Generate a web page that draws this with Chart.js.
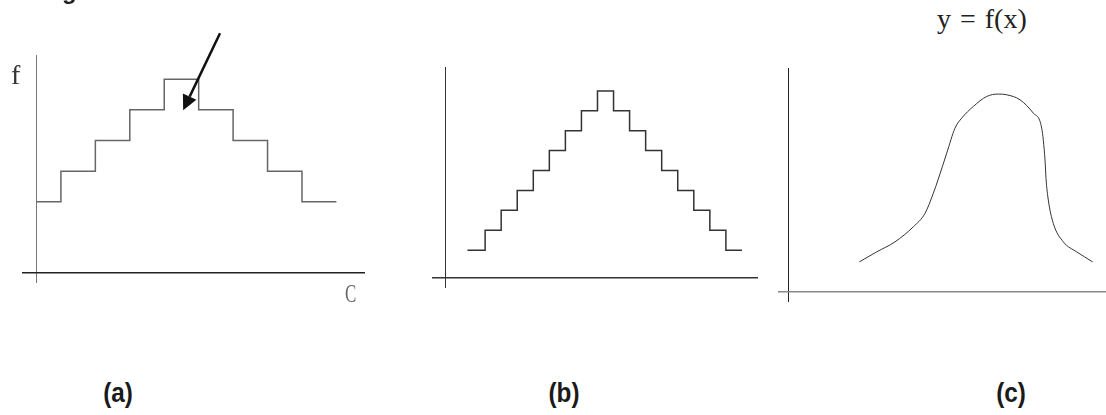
<!DOCTYPE html>
<html>
<head>
<meta charset="utf-8">
<script src="https://cdn.jsdelivr.net/npm/chart.js@4.4.1/dist/chart.umd.min.js"></script>
<style>
  html, body { margin: 0; padding: 0; background: #fff; }
  body { width: 1106px; height: 415px; position: relative; overflow: hidden; }
  canvas { position: absolute; }
  .lbl { position: absolute; white-space: nowrap; line-height: 1; }
  .serif { font-family: "Liberation Serif", "DejaVu Serif", serif; }
  .panel { font-family: "Liberation Sans", Arial, sans-serif; font-weight: bold; font-size: 27px; color: #1a1a1a; width: 60px; text-align: center; top: 380px; transform: scaleX(0.9); }
</style>
</head>
<body>
<canvas id="chartA" width="380" height="310" style="left:0;top:0"></canvas>
<canvas id="chartB" width="350" height="260" style="left:420px;top:50px"></canvas>
<canvas id="chartC" width="336" height="260" style="left:770px;top:50px"></canvas>

<div class="lbl" style="left:62px;top:-21px;font-family:'Liberation Sans',Arial,sans-serif;font-weight:bold;font-size:24px;color:#222">g</div>
<div class="lbl serif" style="left:11px;top:61px;font-size:28px;color:#333">f</div>
<div class="lbl serif" style="left:345px;top:281px;font-size:26px;color:#666;transform:scaleX(0.65);transform-origin:left top">C</div>
<div class="lbl serif" style="left:937px;top:5px;font-size:28px;word-spacing:2px;color:#222">y = f(x)</div>
<div class="lbl panel" style="left:88px">(a)</div>
<div class="lbl panel" style="left:534px">(b)</div>
<div class="lbl panel" style="left:981px">(c)</div>

<script>
// (a) coarse histogram: bin edges and heights
const binEdgesA = [0, 0.7, 1.7, 2.7, 3.7, 4.7, 5.7, 6.7, 7.7, 8.7];
const countsA = [2.33, 3.33, 4.33, 5.33, 6.33, 5.33, 4.33, 3.33, 2.33, 2.33];
// arrow pointing at the top bin (tail, head) in data units of (a)
const arrowFrom = [5.32, 7.83];
const arrowTo = [4.25, 5.32];

// (b) finer histogram
const binEdgesB = [1.4, 2.5, 3.5, 4.5, 5.5, 6.5, 7.5, 8.5, 9.5, 10.5, 11.5, 12.5, 13.5, 14.5, 15.5, 16.5, 17.5, 18.5];
const countsB = [1.4, 2.4, 3.4, 4.4, 5.4, 6.4, 7.4, 8.4, 9.4, 8.4, 7.4, 6.4, 5.4, 4.4, 3.4, 2.4, 1.4, 1.4];

// (c) smooth curve y = f(x)
const curveX = [7.1, 8.84, 10.67, 12.5, 13.67, 14.5, 15.0, 15.84, 16.67, 17.34, 18.5, 19.84, 21.0, 21.84, 23.17, 24.5, 25.34, 25.67, 25.77, 26.0, 26.5, 27.5, 28.84, 30.44];
const curveY = [3.0, 4.0, 5.0, 6.5, 7.84, 9.84, 11.27, 13.84, 16.34, 17.34, 18.5, 19.5, 19.74, 19.67, 19.17, 17.84, 16.34, 13.17, 11.34, 9.17, 6.84, 5.0, 4.0, 3.0];

const toPoints = (xs, ys) => xs.map((x, i) => ({ x: x, y: ys[i] }));

// axis lines = single grid line at 0 on each scale
function axisScale(min, max, color, width) {
  return {
    type: 'linear',
    min: min,
    max: max,
    afterBuildTicks: (scale) => { scale.ticks = [{ value: 0 }]; },
    ticks: { display: false },
    border: { display: false },
    grid: { drawTicks: false, color: color, lineWidth: width }
  };
}

function makeChart(id, data, line, padding, xs, ys, extraPlugins) {
  return new Chart(document.getElementById(id), {
    type: 'line',
    data: { datasets: [Object.assign({ data: data, pointRadius: 0, fill: false }, line)] },
    options: {
      responsive: false,
      animation: false,
      layout: { padding: padding },
      plugins: { legend: { display: false }, tooltip: { enabled: false } },
      scales: { x: xs, y: ys }
    },
    plugins: extraPlugins || []
  });
}

const arrowPlugin = {
  id: 'arrow',
  afterDatasetsDraw(chart) {
    const { ctx, scales: { x, y } } = chart;
    const x0 = x.getPixelForValue(arrowFrom[0]), y0 = y.getPixelForValue(arrowFrom[1]);
    const x1 = x.getPixelForValue(arrowTo[0]), y1 = y.getPixelForValue(arrowTo[1]);
    const ang = Math.atan2(y1 - y0, x1 - x0);
    const head = 15, half = 7.5;
    const bx = x1 - head * Math.cos(ang), by = y1 - head * Math.sin(ang);
    ctx.save();
    ctx.strokeStyle = '#111';
    ctx.fillStyle = '#111';
    ctx.lineWidth = 2.5;
    ctx.beginPath();
    ctx.moveTo(x0, y0);
    ctx.lineTo(bx, by);
    ctx.stroke();
    ctx.beginPath();
    ctx.moveTo(x1, y1);
    ctx.lineTo(bx + half * Math.sin(ang), by - half * Math.cos(ang));
    ctx.lineTo(bx - half * Math.sin(ang), by + half * Math.cos(ang));
    ctx.closePath();
    ctx.fill();
    ctx.restore();
  }
};

// stepped 'before': horizontal run first, then the vertical jump
makeChart('chartA', toPoints(binEdgesA, countsA),
  { stepped: 'before', borderColor: '#666', borderWidth: 1.5 },
  { left: 22, top: 55, right: 15, bottom: 27 },
  axisScale(-0.43, 9.53, '#777', 1),
  axisScale(-0.32, 7.12, '#222', 1.5),
  [arrowPlugin]);

makeChart('chartB', toPoints(binEdgesB, countsB),
  { stepped: 'before', borderColor: '#333', borderWidth: 1.5 },
  { left: 12, top: 17, right: 12, bottom: 22 },
  axisScale(-0.81, 19.5, '#333', 1),
  axisScale(-0.5, 10.6, '#333', 1.5));

makeChart('chartC', toPoints(curveX, curveY),
  { cubicInterpolationMode: 'monotone', borderColor: '#333', borderWidth: 1 },
  { left: 8, top: 18, right: 0, bottom: 8 },
  axisScale(-1.03, 31.77, '#222', 1),
  axisScale(-1.0, 22.34, '#888', 1.5));
</script>
</body>
</html>
